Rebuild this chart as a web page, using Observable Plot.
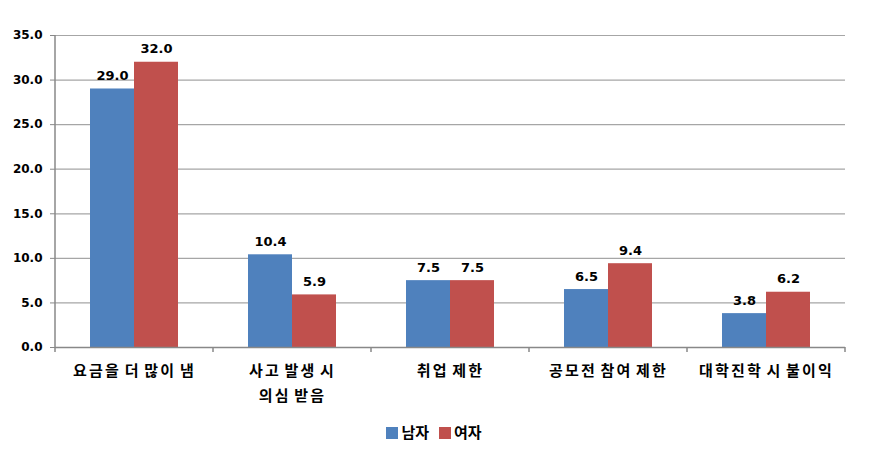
<!DOCTYPE html>
<html><head><meta charset="utf-8">
<script src="https://cdn.jsdelivr.net/npm/d3@7"></script>
<script src="https://cdn.jsdelivr.net/npm/@observablehq/plot@0.6"></script>
<style>
body{margin:0;background:#fff;font-family:'DejaVu Sans','Noto Sans CJK KR',sans-serif;}
#legend{display:flex;justify-content:center;align-items:center;gap:10px;margin-top:11px;margin-left:-22px;font-size:15px;font-weight:bold;color:#000;}
#legend span.sw{display:inline-block;width:12px;height:12px;margin-right:3px;vertical-align:-1px;}
</style></head>
<body>
<div id="chart"></div>
<div id="legend"></div>
<script>
const categories = ["요금을 더 많이 냄", "사고 발생 시\n의심 받음", "취업 제한", "공모전 참여 제한", "대학진학 시 불이익"];
const series = ["남자", "여자"];
const male = [29.0, 10.4, 7.5, 6.5, 3.8];
const female = [32.0, 5.9, 7.5, 9.4, 6.2];
const yTicks = [0, 5, 10, 15, 20, 25, 30, 35];
const colors = ["#4F81BD", "#C0504D"];

const data = categories.flatMap((c, i) => [
  {cat: c, s: series[0], v: male[i]},
  {cat: c, s: series[1], v: female[i]}
]);

const plot = Plot.plot({
  width: 890, height: 410,
  marginLeft: 54, marginRight: 44, marginTop: 35, marginBottom: 63,
  style: {fontFamily: "'DejaVu Sans','Noto Sans CJK KR',sans-serif", color: "#000", background: "#fff"},
  fx: {domain: categories, padding: 0, label: null},
  x: {domain: series, paddingInner: 0, paddingOuter: 0.76, axis: null},
  y: {domain: [0, 35], label: null},
  color: {domain: series, range: colors},
  marks: [
    Plot.gridY(yTicks, {stroke: "#a6a6a6", strokeOpacity: 1, strokeWidth: 1.2}),
    Plot.axisY(yTicks, {tickFormat: d => d.toFixed(1), tickSize: 5, tickPadding: 8, fontWeight: "bold", fontSize: 12, label: null, stroke: "#888"}),
    Plot.axisFx({anchor: "bottom", tickSize: 0, tickPadding: 11, lineHeight: 1.65, lineAnchor: "top", fontSize: 15, fontWeight: "bold", label: null}),
    Plot.barY(data, {fx: "cat", x: "s", y: "v", fill: "s"}),
    Plot.text(data, {fx: "cat", x: "s", y: "v", text: d => d.v.toFixed(1), lineAnchor: "bottom", dy: -9, fontWeight: "bold", fontSize: 13}),
    Plot.ruleY([0], {stroke: "#888", strokeWidth: 1.5})
  ]
});

// left axis line and category boundary ticks, positioned through Plot's own scales
const fx = plot.scale("fx"), y = plot.scale("y");
const svg = d3.select(plot.tagName === "svg" ? plot : plot.querySelector("svg"));
const g = svg.append("g").attr("stroke", "#888").attr("stroke-width", 1.5);
const x0 = fx.apply(categories[0]);
g.append("line").attr("x1", x0).attr("x2", x0).attr("y1", y.apply(35)).attr("y2", y.apply(0));
const bounds = categories.map(c => fx.apply(c)).concat([fx.apply(categories[categories.length - 1]) + fx.bandwidth]);
bounds.forEach(b => g.append("line").attr("x1", b).attr("x2", b).attr("y1", y.apply(0)).attr("y2", y.apply(0) + 5));
svg.selectAll('g[aria-label="fx-axis tick label"] text')
  .style("font-family", "'Noto Sans CJK KR',sans-serif")
  .style("letter-spacing", "2.2px")
  .style("word-spacing", "-2px");

document.getElementById("chart").append(plot);

const lg = document.getElementById("legend");
series.forEach((s, i) => {
  const item = document.createElement("div");
  item.innerHTML = `<span class="sw" style="background:${colors[i]}"></span>${s}`;
  lg.append(item);
});
</script>
</body></html>
